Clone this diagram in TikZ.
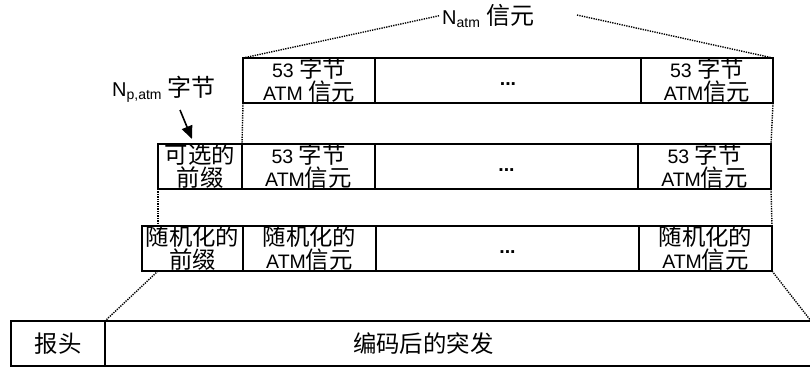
\documentclass[tikz,border=0pt]{standalone}
\usepackage{fontspec}
\setmainfont{Liberation Sans}
\newfontfamily\cjk[Scale=1.2]{Noto Sans CJK SC}
\usetikzlibrary{positioning,arrows.meta}
\newcommand{\zh}[1]{{\cjk #1}}
\begin{document}
\begin{tikzpicture}[x=1pt,y=-1pt,
    cell/.style={draw, line width=1.2pt, inner sep=0pt, outer sep=0pt, minimum height=45pt,
      align=center, font=\fontsize{19.5}{23}\selectfont},
    lbl/.style={inner sep=2pt, font=\fontsize{20}{23}\selectfont},
    dotline/.style={line width=1.4pt, dash pattern=on 1.3pt off 1.1pt}]
  \useasboundingbox (0,0) rectangle (810,367);
  \node[cell, minimum width=132pt, anchor=north west] (r1a) at (243,58) {53 \zh{字节}\\ATM \zh{信元}};
  \node[cell, minimum width=266pt, right=0pt of r1a] (r1b) {\strut\textbf{...}};
  \node[cell, minimum width=132pt, right=0pt of r1b] (r1c) {53 \zh{字节}\\ATM\zh{信元}};
  \node[cell, minimum width=84pt, anchor=north west] (r2a) at (158,144) {\zh{可选的}\\\zh{前缀}};
  \node[cell, minimum width=133pt, right=0pt of r2a] (r2b) {53 \zh{字节}\\ATM\zh{信元}};
  \node[cell, minimum width=263pt, right=0pt of r2b] (r2c) {\strut\textbf{...}};
  \node[cell, minimum width=133pt, right=0pt of r2c] (r2d) {53 \zh{字节}\\ATM\zh{信元}};
  \node[cell, minimum width=101pt, anchor=north west] (r3a) at (142,226) {\zh{随机化的}\\\zh{前缀}};
  \node[cell, minimum width=133pt, right=0pt of r3a] (r3b) {\zh{随机化的}\\ATM\zh{信元}};
  \node[cell, minimum width=263pt, right=0pt of r3b] (r3c) {\strut\textbf{...}};
  \node[cell, minimum width=133pt, right=0pt of r3c] (r3d) {\zh{随机化的}\\ATM\zh{信元}};
  \node[cell, minimum width=94pt, anchor=north west] (r4a) at (11,321) {\zh{报头}};
  \node[cell, minimum width=706pt, right=0pt of r4a] (r4b) {\makebox[706pt][l]{\hspace{248pt}\zh{编码后的突发}}};
  \node[lbl, anchor=base west] (natm) at (440,24) {N\textsubscript{atm} \zh{信元}};
  \node[lbl, anchor=base west] (np) at (110,96) {N\textsubscript{p,atm} \zh{字节}};
  \coordinate (natmR) at (577,15);
  \coordinate (nptail) at (180,110);
  \draw[dotline] (r1a.north west) -- (natm.west);
  \draw[dotline] (natmR) -- (r1c.north east);
  \draw[-{Triangle[length=13pt,width=11pt]}, line width=1.6pt] (nptail) -- ([xshift=-8pt,yshift=5pt]r2a.north);
  \draw[dotline] (r1a.south west) -- (r2b.north west);
  \draw[dotline] (r1c.south east) -- (r2d.north east);
  \draw[dotline] (r2a.south west) -- (r2a.south west |- r3a.north);
  \draw[dotline] (r2d.south east) -- (r3d.north east);
  \draw[dotline] (r2a.west |- r3a.south) -- (r4a.north east);
  \draw[dotline] (r3d.south east) -- (r4b.north east);
\end{tikzpicture}
\end{document}
